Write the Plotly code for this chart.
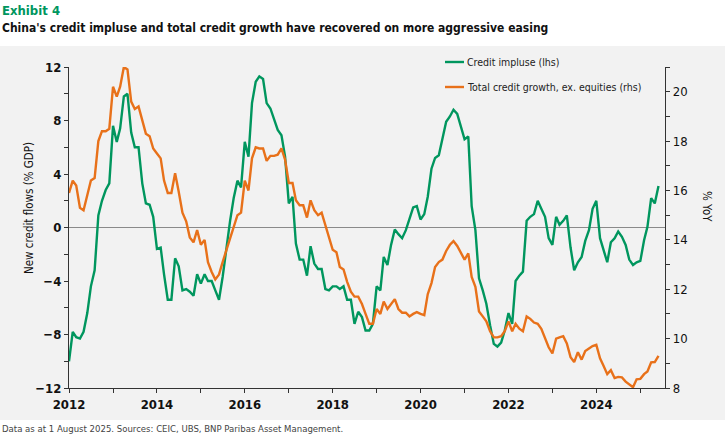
import pandas as pd
import plotly.graph_objects as go

# -------------------------------------------------
# Data (monthly, Jan 2012 - Jun 2025)
# -------------------------------------------------

months = pd.date_range("2012-01-01", "2025-06-01", freq="MS")

credit_impulse = [
    -10.0, -7.8, -8.2, -8.3, -7.8, -6.4, -4.4, -3.2, 0.9, 2.0, 2.8, 3.3,
    7.6, 6.4, 7.4, 9.8, 10.0, 7.1, 6.0, 6.0, 3.3, 1.8, 1.7, 0.8,
    -1.6, -1.5, -3.5, -5.4, -5.4, -2.3, -2.9, -4.7, -4.6, -4.8, -5.1, -3.5,
    -4.2, -3.5, -4.0, -4.0, -4.7, -5.4, -3.7, -1.4, 0.5, 2.2, 3.5, 3.0,
    6.4, 5.3, 9.3, 10.9, 11.3, 11.1, 9.3, 8.9, 8.0, 7.3, 6.9, 5.3,
    1.8, 2.3, -1.2, -2.4, -2.4, -3.6, -1.4, -2.7, -3.1, -3.1, -4.6, -4.7,
    -4.4, -4.4, -4.6, -4.4, -5.4, -5.4, -7.2, -6.3, -6.7, -7.7, -7.7, -7.2,
    -4.4, -4.7, -2.2, -2.8, -1.3, -0.15, -0.5, -0.8, -0.2, 0.6, 1.5, 1.6,
    0.6, 1.0, 2.3, 4.4, 5.2, 5.4, 6.6, 7.9, 8.3, 8.8, 8.5, 7.6,
    6.6, 6.8, 1.6, -0.2, -3.8, -4.7, -5.7, -7.3, -8.7, -8.9, -8.6, -7.7,
    -6.4, -7.2, -4.0, -3.6, -3.3, 0.5, 0.8, 1.0, 2.0, 1.4, 0.8, -0.8,
    -1.3, 0.8, 0.2, 0.5, 0.9, -1.5, -3.2, -2.6, -2.2, -1.0, -0.2, 1.4,
    2.0, -0.8, -1.6, -2.6, -1.1, -0.8, -0.3, -0.7, -1.3, -2.4, -2.8, -2.6,
    -2.5, -0.95, 0.05, 2.2, 1.8, 3.1,
]

total_credit_growth = [
    15.9, 16.4, 16.2, 15.3, 15.2, 15.8, 16.4, 16.5, 18.0, 18.4, 18.4, 18.5,
    20.2, 19.8, 20.2, 21.0, 20.9, 19.6, 19.3, 19.4, 18.8, 18.3, 18.2, 17.7,
    17.5, 17.3, 16.4, 15.9, 15.9, 16.7, 15.95, 15.1, 14.75, 14.1, 13.9, 14.4,
    13.8, 14.0, 13.1, 12.7, 12.4, 12.6, 13.1, 13.6, 14.1, 14.6, 15.0, 15.1,
    16.4, 16.0, 17.3, 17.75, 17.7, 17.7, 17.2, 17.4, 17.4, 17.45, 17.7, 17.25,
    16.3, 16.3, 15.6, 15.4, 15.4, 14.9, 15.6, 15.2, 15.0, 15.1, 14.6, 14.2,
    13.6, 13.5, 12.9, 12.8, 12.3, 11.9, 11.7, 11.7, 11.4, 11.0, 10.6, 10.6,
    11.2, 11.0, 11.5, 11.2, 11.4, 11.6, 11.2, 11.05, 11.05, 10.9, 11.0, 11.07,
    11.0, 10.95, 11.8, 12.25, 12.9, 13.1, 13.2, 13.55, 13.8, 13.95, 13.75, 13.45,
    13.2, 13.45, 12.5, 12.1, 11.1, 10.9, 10.7, 10.3, 10.05, 10.05, 10.1, 10.3,
    10.7, 10.3, 10.6, 10.4, 10.3, 10.9, 10.8, 10.65, 10.6, 10.4, 10.0, 9.65,
    9.4, 10.0, 10.05, 10.1, 9.8, 9.25, 9.05, 9.45, 9.15, 9.5, 9.6, 9.7,
    9.75, 9.2, 8.9, 8.56, 8.72, 8.4, 8.45, 8.43, 8.26, 8.13, 8.03, 8.35,
    8.37, 8.56, 8.67, 9.04, 9.05, 9.3,
]

series_names = ["Credit impluse (lhs)", "Total credit growth, ex. equities (rhs)"]
left_ticks = [-12, -8, -4, 0, 4, 8, 12]
right_ticks = [8, 10, 12, 14, 16, 18, 20]

GREEN = "#00965e"
ORANGE = "#e8711a"
BG = "#f2f2f2"
AXIS = "#333333"
FONT = "DejaVu Sans Condensed, Liberation Sans Narrow, Arial, sans-serif"

# plot area in pixels (725 x 436 page)
W, H = 725, 436
L, R, T, B = 69, 60, 67, 48
PW, PH = W - L - R, H - T - B


def px_x(x):
    return (x - L) / PW


def px_y(y):
    return (H - B - y) / PH


fig = go.Figure()

fig.add_trace(go.Scatter(
    x=months, y=credit_impulse, name=series_names[0],
    mode="lines", line=dict(color=GREEN, width=2.4),
))
fig.add_trace(go.Scatter(
    x=months, y=total_credit_growth, name=series_names[1],
    mode="lines", line=dict(color=ORANGE, width=2.4), yaxis="y2",
))

# grey panel behind the chart
fig.add_shape(
    type="rect", xref="paper", yref="paper", layer="below",
    x0=px_x(0), x1=px_x(W), y0=px_y(420), y1=px_y(46),
    fillcolor=BG, line=dict(width=0),
)

# hand-drawn legend (short line keys like the original)
for name, color, ly in zip(series_names, [GREEN, ORANGE], [62, 87]):
    fig.add_shape(
        type="line", xref="paper", yref="paper",
        x0=px_x(445), x1=px_x(464), y0=px_y(ly), y1=px_y(ly),
        line=dict(color=color, width=2.4),
    )
    fig.add_annotation(
        text=name, xref="paper", yref="paper", x=px_x(465), y=px_y(ly),
        xanchor="left", yanchor="middle", showarrow=False,
        font=dict(size=10.5, color="#222222"),
    )

fig.update_layout(
    width=W, height=H,
    margin=dict(l=L, r=R, t=T, b=B),
    paper_bgcolor="white", plot_bgcolor=BG,
    font=dict(family=FONT, size=12, color="#111111"),
    showlegend=False,
    xaxis=dict(
        type="date", range=["2012-01-01", "2025-07-25"],
        tick0="2012-01-01", dtick="M24", tickformat="%Y",
        ticks="outside", ticklen=4, tickcolor=AXIS,
        minor=dict(dtick="M12", ticks="outside", ticklen=4, tickcolor=AXIS),
        showline=True, linecolor=AXIS, linewidth=1.2,
        showgrid=False, zeroline=False,
        tickfont=dict(size=13, weight="bold", color="#111111"),
    ),
    yaxis=dict(
        range=[-12, 12], tickvals=left_ticks,
        ticks="outside", ticklen=4, tickcolor=AXIS,
        minor=dict(dtick=2, ticks="outside", ticklen=4, tickcolor=AXIS),
        showline=True, linecolor=AXIS, linewidth=1.2,
        showgrid=False, zeroline=True, zerolinecolor="#8a8a8a", zerolinewidth=1,
        tickfont=dict(size=13, weight="bold", color="#111111"),
    ),
    yaxis2=dict(
        range=[8, 21], tickvals=right_ticks, overlaying="y", side="right",
        ticks="outside", ticklen=4, tickcolor=AXIS,
        minor=dict(dtick=1, ticks="outside", ticklen=4, tickcolor=AXIS),
        showline=True, linecolor=AXIS, linewidth=1.2,
        showgrid=False, zeroline=False,
        tickfont=dict(size=13, color="#111111"),
    ),
)

annotations = [
    dict(text="<b>Exhibit 4</b>", x=px_x(0), y=px_y(10),
         font=dict(size=13, color=GREEN)),
    dict(text="<b>China's credit impluse and total credit growth have recovered on more aggressive easing</b>",
         x=px_x(0), y=px_y(28), font=dict(size=12, color="#111111")),
    dict(text="Data as at 1 August 2025. Sources: CEIC, UBS, BNP Paribas Asset Management.",
         x=px_x(0), y=px_y(429), font=dict(size=9.5, color="#444444")),
]
for a in annotations:
    fig.add_annotation(xref="paper", yref="paper", xanchor="left", yanchor="middle",
                       showarrow=False, **a)

fig.add_annotation(text="New credit flows (% GDP)", xref="paper", yref="paper",
                   x=px_x(20), y=px_y(208), textangle=-90, showarrow=False,
                   font=dict(size=11.5, color="#111111"))
fig.add_annotation(text="% YoY", xref="paper", yref="paper",
                   x=px_x(716), y=px_y(206), textangle=90, showarrow=False,
                   font=dict(size=11.5, color="#111111"))

# the page keeps a default body margin; drop it so the figure sits at 0,0
fig.write_html(
    "out.html",
    config={"displayModeBar": False},
    post_script="document.body.style.margin='0';",
)
